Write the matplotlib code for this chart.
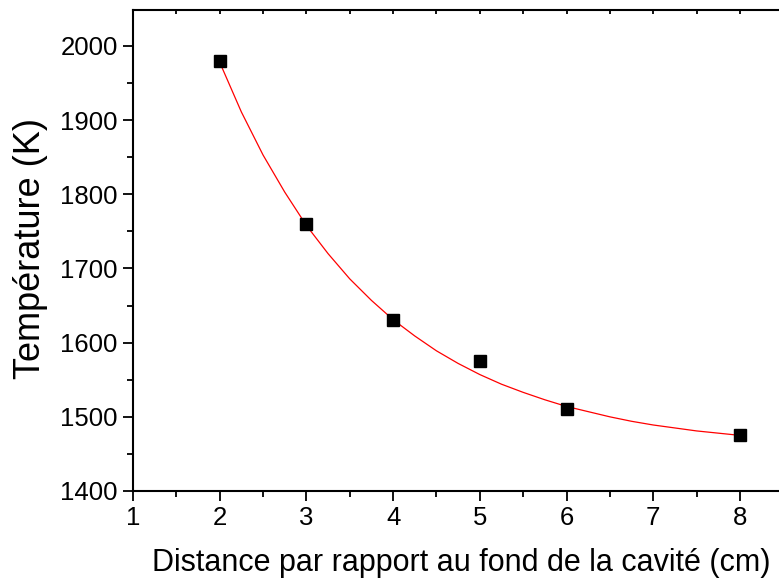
import matplotlib.pyplot as plt
from matplotlib.ticker import MultipleLocator

# mesures
distance = [2, 3, 4, 5, 6, 8]
temperature = [1980, 1760, 1630, 1575, 1510, 1475]

# courbe d'ajustement
fit_x = [2.0, 2.25, 2.5, 2.75, 3.0, 3.25, 3.5, 3.75, 4.0, 4.25, 4.5, 4.75, 5.0,
         5.25, 5.5, 5.75, 6.0, 6.25, 6.5, 6.75, 7.0, 7.25, 7.5, 7.75, 8.0]
fit_y = [1978, 1911, 1853, 1803, 1758, 1720, 1686, 1657, 1631, 1609, 1589, 1572, 1557,
         1544, 1533, 1523, 1514, 1507, 1500, 1494, 1489, 1485, 1481, 1478, 1475]

plt.rcParams['font.family'] = ['Liberation Sans', 'DejaVu Sans']

fig = plt.figure(figsize=(7.79, 5.87), dpi=100)
ax = fig.add_axes([133 / 779, 96 / 587, 1 - 133 / 779, (491 - 10) / 587])

ax.plot(fit_x, fit_y, color='red', lw=0.9, zorder=2)
ax.plot(distance, temperature, 's', color='black', ms=8, zorder=3)

ax.set_xlim(1, 1 + (779 - 133) / 86.7)
ax.set_ylim(1400, 2048.5)

ax.xaxis.set_major_locator(MultipleLocator(1))
ax.xaxis.set_minor_locator(MultipleLocator(0.5))
ax.yaxis.set_major_locator(MultipleLocator(100))
ax.yaxis.set_minor_locator(MultipleLocator(50))

ax.spines['right'].set_visible(False)
for s in ['left', 'bottom', 'top']:
    ax.spines[s].set_linewidth(1.5)

ax.tick_params(axis='both', which='major', direction='out', length=7, width=1.3,
               labelsize=18.5, pad=4)
ax.tick_params(axis='both', which='minor', direction='out', length=4, width=1.3)
ax.tick_params(axis='x', which='both', top=True)
ax.tick_params(axis='y', which='both', right=False)
# graduations du haut vers l'intérieur
for t in ax.xaxis.get_major_ticks() + ax.xaxis.get_minor_ticks():
    t.tick2line.set_marker(3)
    t.tick2line.set_markersize(3)

ax.set_xlabel('Distance par rapport au fond de la cavité (cm)', fontsize=22)
ax.set_ylabel('Température (K)', fontsize=26)
ax.xaxis.set_label_coords(0.508, -0.118)
ax.yaxis.set_label_coords(-0.131, 0.505)

fig.savefig('out.png', dpi=100)
